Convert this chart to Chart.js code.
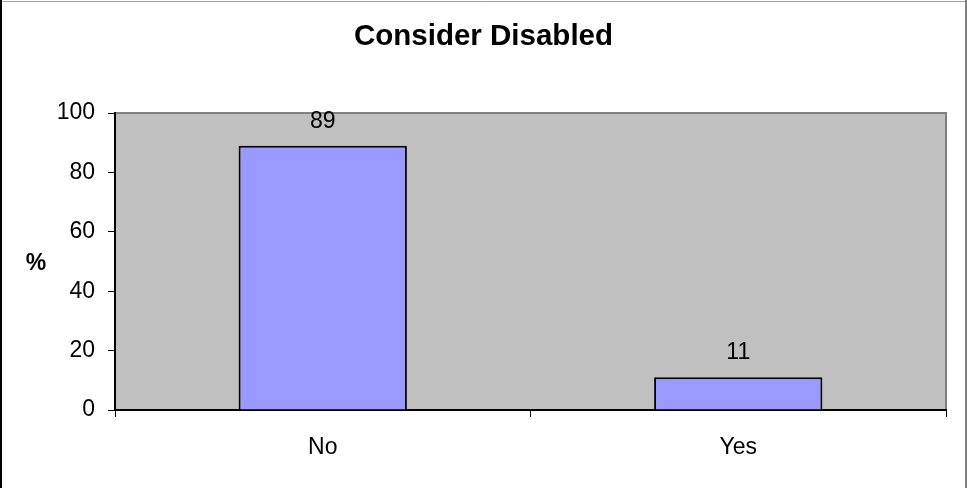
<!DOCTYPE html>
<html>
<head>
<meta charset="utf-8">
<script src="https://cdn.jsdelivr.net/npm/chart.js@4.4.0/dist/chart.umd.min.js"></script>
<style>
  html, body { margin: 0; padding: 0; background: #fff; }
  #wrap { width: 967px; height: 488px; position: relative; }
</style>
</head>
<body>
<div id="wrap"><canvas id="chart" width="967" height="488"></canvas></div>
<script>
  const categories = ["No", "Yes"];
  const values = [89, 11];
  const yTicks = [0, 20, 40, 60, 80, 100];
  const chartTitle = "Consider Disabled";
  const yAxisLabel = "%";

  const FONT = "'Liberation Sans', Arial, sans-serif";

  // gray plot area, outer frame, title, axis title and value labels
  const decor = {
    id: "decor",
    beforeDraw(chart) {
      const { ctx, chartArea: a } = chart;
      ctx.save();
      ctx.fillStyle = "#c0c0c0";
      ctx.fillRect(a.left, a.top, a.right - a.left, a.bottom - a.top);
      ctx.strokeStyle = "#808080";
      ctx.lineWidth = 2;
      ctx.beginPath();
      ctx.moveTo(a.left, a.top);
      ctx.lineTo(a.right, a.top);
      ctx.lineTo(a.right, a.bottom);
      ctx.stroke();
      // outer frame
      ctx.lineWidth = 1;
      ctx.strokeStyle = "#a0a0a0";
      ctx.beginPath();
      ctx.moveTo(0, 1.5);
      ctx.lineTo(chart.width, 1.5);
      ctx.stroke();
      ctx.strokeStyle = "#808080";
      ctx.lineWidth = 2;
      ctx.beginPath();
      ctx.moveTo(966, 0);
      ctx.lineTo(966, chart.height);
      ctx.stroke();
      ctx.strokeStyle = "#000";
      ctx.beginPath();
      ctx.moveTo(1, 0);
      ctx.lineTo(1, chart.height);
      ctx.stroke();

      ctx.fillStyle = "#000";
      ctx.font = "bold 29.5px " + FONT;
      ctx.textAlign = "center";
      ctx.textBaseline = "alphabetic";
      ctx.fillText(chartTitle, chart.width / 2, 45);
      ctx.restore();
    },
    afterDatasetsDraw(chart) {
      const { ctx, chartArea: a } = chart;
      ctx.save();
      ctx.fillStyle = "#000";
      ctx.font = "23px " + FONT;
      ctx.textAlign = "center";
      ctx.textBaseline = "alphabetic";
      chart.getDatasetMeta(0).data.forEach((bar, i) => {
        ctx.fillText(String(values[i]), bar.x, bar.y - 18);
      });
      ctx.font = "bold 23px " + FONT;
      ctx.textBaseline = "middle";
      ctx.fillText(yAxisLabel, 36, (a.top + a.bottom) / 2 + 2);
      ctx.restore();
    },
  };

  new Chart(document.getElementById("chart"), {
    type: "bar",
    data: {
      labels: categories,
      datasets: [
        {
          data: values,
          backgroundColor: "#9999ff",
          borderColor: "#000",
          borderWidth: 2,
          borderSkipped: "bottom",
          categoryPercentage: 0.405,
          barPercentage: 1,
        },
      ],
    },
    options: {
      responsive: false,
      animation: false,
      layout: { padding: { left: 0, right: 21, top: 113, bottom: 0 } },
      plugins: {
        legend: { display: false },
        tooltip: { enabled: false },
        title: { display: false },
      },
      scales: {
        x: {
          grid: {
            offset: true,
            drawOnChartArea: false,
            drawTicks: true,
            tickLength: 7,
            color: "#000",
          },
          border: { color: "#000", width: 2 },
          ticks: {
            color: "#000",
            font: { family: FONT, size: 23 },
            padding: 17,
          },
          afterFit(scale) {
            scale.height = 78;
          },
        },
        y: {
          min: 0,
          max: 100,
          afterBuildTicks(scale) {
            scale.ticks = yTicks.map((v) => ({ value: v }));
          },
          grid: {
            drawOnChartArea: false,
            drawTicks: true,
            tickLength: 7,
            color: "#000",
          },
          border: { color: "#000", width: 2 },
          ticks: {
            color: "#000",
            font: { family: FONT, size: 23 },
            padding: 13,
          },
          afterFit(scale) {
            scale.width = 115;
          },
        },
      },
    },
    plugins: [decor],
  });
</script>
</body>
</html>
